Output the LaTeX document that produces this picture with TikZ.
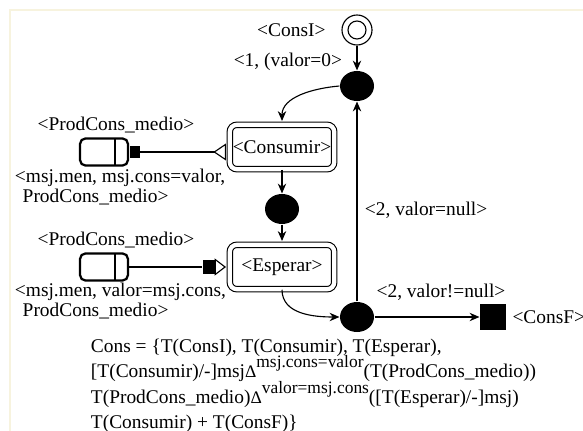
\documentclass[tikz,border=0pt]{standalone}
\usepackage{fontspec}
\setmainfont{Liberation Serif}
\usetikzlibrary{positioning, arrows.meta, shapes.geometric}

\tikzset{
every picture/.style={
line width=0.8pt
}}
\definecolor{framecream}{RGB}{247,243,222}
\newcommand{\deltasym}{{\fontsize{12.5}{12.5}\selectfont Δ}}
\newcommand{\supertext}[1]{\raisebox{7pt}[0pt][0pt]{\fontsize{12.4}{12.4}\selectfont #1}}

\begin{document}
\begin{tikzpicture}[x=0.025cm, y=-0.025cm,
font=\fontsize{13.8}{16.4}\selectfont,
state/.style = {rectangle, rounded corners=5pt, draw=black, double, double distance=3pt, minimum width=2.61cm, minimum height=1.11cm, inner sep=0pt},
junction/.style = {ellipse, fill=black, minimum width=0.85cm, minimum height=0.75cm, inner sep=0pt},
obj/.style = {rectangle, rounded corners=4pt, draw=black, line width=1.6pt, minimum width=1.2cm, minimum height=0.68cm, inner sep=0pt,
  path picture={\draw[line width=1.2pt] ([xshift=-0.32cm]path picture bounding box.north east) -- ([xshift=-0.32cm]path picture bounding box.south east);}},
port/.style = {rectangle, fill=black, inner sep=0pt},
lbl/.style = {inner sep=1pt},
tip/.style = {-{Stealth[length=7pt, width=6pt]}},
into/.style = {shorten >=2.3pt}]

\useasboundingbox (0,0) rectangle (583,431);
\fill[white] (0,0) rectangle (583,431);
\draw[framecream, line width=1.5pt] (10,431) -- (10,10) -- (583,10);

  % states
  \node[circle, draw, minimum size=0.75cm, inner sep=0pt] (cons_i) at (357,30) {};
  \node[circle, draw, minimum size=0.45cm, inner sep=0pt] (cons_i_in) at (cons_i) {};
  \node[junction] (j_top) at (357,86) {};
  \node[state] (consumir) at (282,147) {<Consumir>};
  \node[junction] (j_mid) at (282,209) {};
  \node[state] (esperar) at (282,267) {<Esperar>};
  \node[junction] (j_bot) at (357,317) {};
  \node[rectangle, fill=black, minimum size=0.65cm, inner sep=0pt] (cons_f) at (493,317) {};

  \node[lbl, left=0.35cm of cons_i] (cons_i_lbl) {<ConsI>};
  \node[lbl, right=0.1cm of cons_f] (cons_f_lbl) {<ConsF>};
  \node[lbl, anchor=east] (lbl_init) at (344,62) {<1, (valor=0>};
  \node[lbl, anchor=west] (lbl_null) at (363,210) {<2, valor=null>};
  \node[lbl] (lbl_notnull) at (441,292) {<2, valor!=null>};

  % objects
  \node[obj] (medio1) at (104,152) {};
  \node[port, minimum width=0.25cm, minimum height=0.28cm, right=0pt of medio1] (medio1_port) {};
  \node[obj] (medio2) at (104,267) {};
  \node[port, minimum width=0.32cm, minimum height=0.37cm] (medio2_port) at (209,267) {};

  \node[lbl] (medio1_name) at (116,125) {<ProdCons\_medio>};
  \node[lbl] (medio2_name) at (116,240) {<ProdCons\_medio>};
  \node[lbl, align=left, anchor=north west, font=\fontsize{13.8}{14.2}\selectfont] (medio1_msg) at (13,167)
    {<msj.men, msj.cons=valor,\\ \hspace*{0.4em}ProdCons\_medio>};
  \node[lbl, align=left, anchor=north west, font=\fontsize{13.8}{14.2}\selectfont] (medio2_msg) at (13,281)
    {<msj.men, valor=msj.cons,\\ \hspace*{0.4em}ProdCons\_medio>};

  \node[lbl, align=left, anchor=north west, font=\fontsize{13.8}{18}\selectfont] (cons_def) at (89,337)
    {Cons = \{T(ConsI), T(Consumir), T(Esperar),\\
     {[}T(Consumir)/-{]}msj\deltasym\supertext{msj.cons=valor}(T(ProdCons\_medio))\\
     T(ProdCons\_medio)\deltasym\supertext{valor=msj.cons}([T(Esperar)/-]msj)\\
     T(Consumir) + T(ConsF)\}};

  % connectors
  \draw[tip] (cons_i) -- (j_top);
  \draw[tip, into] (j_top.west) to[out=185, in=90] (consumir.north);
  \draw[tip] (consumir) -- (j_mid);
  \draw[tip, into] (j_mid) -- (esperar);
  \draw[tip] (esperar.south) to[out=-90, in=180] (j_bot.west);
  \draw[tip] (j_bot) -- (j_top);
  \draw[tip] (j_bot) -- (cons_f);

  \draw[-{Triangle[open, reversed, length=9pt, width=12pt]}, into] (medio1_port) -- (medio1_port -| consumir.west);
  \draw (medio2) -- (medio2_port);
  \draw[-{Triangle[open, length=8pt, width=12pt]}, into] (medio2_port) -- (esperar.west);
\end{tikzpicture}
\end{document}
